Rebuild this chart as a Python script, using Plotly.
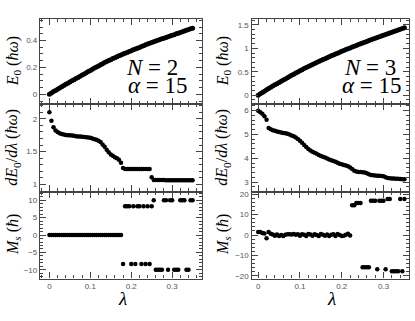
import plotly.graph_objects as go

# lambda sampling (same for both systems)
lam = [0.0, 0.005, 0.01, 0.015, 0.02, 0.025, 0.03, 0.035, 0.04, 0.045,
       0.05, 0.055, 0.06, 0.065, 0.07, 0.075, 0.08, 0.085, 0.09, 0.095,
       0.1, 0.105, 0.11, 0.115, 0.12, 0.125, 0.13, 0.135, 0.14, 0.145,
       0.15, 0.155, 0.16, 0.165, 0.17, 0.175, 0.18, 0.185, 0.19, 0.195,
       0.2, 0.205, 0.21, 0.215, 0.22, 0.225, 0.23, 0.235, 0.24, 0.245,
       0.25, 0.255, 0.26, 0.265, 0.27, 0.275, 0.28, 0.285, 0.29, 0.295,
       0.3, 0.305, 0.31, 0.315, 0.32, 0.325, 0.33, 0.335, 0.34, 0.345, 0.35]

# N = 2, alpha = 15
e0_n2 = [0.0, 0.010, 0.020, 0.029, 0.038, 0.047, 0.056, 0.065, 0.074, 0.082,
         0.091, 0.100, 0.108, 0.117, 0.126, 0.134, 0.143, 0.152, 0.160, 0.169,
         0.178, 0.186, 0.195, 0.203, 0.211, 0.220, 0.228, 0.236, 0.244, 0.251,
         0.258, 0.266, 0.273, 0.280, 0.287, 0.293, 0.300, 0.306, 0.312, 0.318,
         0.324, 0.331, 0.337, 0.343, 0.349, 0.355, 0.361, 0.368, 0.374, 0.380,
         0.386, 0.391, 0.397, 0.402, 0.407, 0.413, 0.418, 0.423, 0.429, 0.434,
         0.439, 0.444, 0.450, 0.455, 0.460, 0.466, 0.471, 0.476, 0.482, 0.487, 0.492]
de_n2 = [2.10, 1.97, 1.87, 1.82, 1.80, 1.78, 1.77, 1.76, 1.755, 1.75,
         1.748, 1.745, 1.74, 1.735, 1.732, 1.73, 1.727, 1.723, 1.72, 1.715,
         1.71, 1.70, 1.69, 1.68, 1.665, 1.645, 1.61, 1.575, 1.53, 1.49,
         1.455, 1.435, 1.415, 1.40, 1.375, 1.33, 1.25, 1.235, 1.235, 1.235,
         1.235, 1.235, 1.235, 1.235, 1.235, 1.235, 1.235, 1.235, 1.235, 1.235,
         1.11, 1.068, 1.067, 1.067, 1.066, 1.066, 1.066, 1.065, 1.065, 1.065,
         1.065, 1.064, 1.064, 1.064, 1.063, 1.063, 1.063, 1.062, 1.062, 1.062, 1.062]
ms_n2 = [0, 0, 0, 0, 0, 0, 0, 0, 0, 0,
         0, 0, 0, 0, 0, 0, 0, 0, 0, 0,
         0, 0, 0, 0, 0, 0, 0, 0, 0, 0,
         0, 0, 0, 0, 0, 0, -8.3, 8.3, 8.3, 8.3,
         -8.3, 8.3, -8.3, 8.3, 8.3, -8.3, 8.3, -8.3, 8.3, -8.3,
         8.3, 10, -10, -10, -10, -10, 10, 10, -10, 10,
         10, -10, -10, -10, 10, 10, 10, -10, -10, 10, 10]

# N = 3, alpha = 15
e0_n3 = [0.0, 0.030, 0.059, 0.088, 0.117, 0.144, 0.170, 0.196, 0.222, 0.248,
         0.273, 0.299, 0.324, 0.349, 0.375, 0.400, 0.425, 0.449, 0.474, 0.498,
         0.522, 0.545, 0.568, 0.591, 0.613, 0.635, 0.656, 0.678, 0.699, 0.720,
         0.740, 0.761, 0.781, 0.801, 0.821, 0.840, 0.860, 0.879, 0.898, 0.917,
         0.936, 0.955, 0.973, 0.992, 1.010, 1.028, 1.045, 1.063, 1.080, 1.097,
         1.114, 1.131, 1.148, 1.165, 1.181, 1.198, 1.214, 1.231, 1.247, 1.263,
         1.279, 1.296, 1.312, 1.327, 1.343, 1.359, 1.375, 1.390, 1.406, 1.422, 1.437]
de_n3 = [6.0, 5.93, 5.87, 5.76, 5.62, 5.27, 5.22, 5.18, 5.15, 5.12,
         5.10, 5.08, 5.06, 5.045, 5.03, 5.0, 4.96, 4.92, 4.87, 4.81,
         4.74, 4.65, 4.56, 4.47, 4.39, 4.33, 4.27, 4.23, 4.19, 4.14,
         4.10, 4.06, 4.03, 3.99, 3.95, 3.92, 3.88, 3.85, 3.81, 3.77,
         3.75, 3.72, 3.70, 3.66, 3.61, 3.55, 3.48, 3.44, 3.42, 3.42,
         3.41, 3.40, 3.37, 3.33, 3.30, 3.29, 3.28, 3.27, 3.27, 3.26,
         3.24, 3.20, 3.17, 3.16, 3.15, 3.15, 3.14, 3.14, 3.13, 3.12, 3.12]
ms_n3 = [1.5, 1.5, 1.0, 0.8, -1.6, 1.5, 0.7, 0.3, -0.3, 0.3,
         -0.5, 0.0, -0.4, 0.2, 0.4, 0.4, 0.3, 0.5, 0.2, 0.4,
         -0.3, 0.4, 0.1, -0.4, 0.5, 0.3, -0.3, 0.4, 0.0, -0.4,
         0.5, 0.2, -0.3, 0.3, -0.4, 0.1, 0.4, -0.4, 0.5, 0.0,
         -0.4, -0.3, 0.2, 0.6, -0.2, 14.6, 14.6, 15.7, 15.7, 15.7,
         -15.8, -15.8, -15.8, -15.8, 16.8, 16.8, 16.8, -16.8, 16.8, 16.8,
         16.8, -16.8, 17.7, 17.7, -17.8, -17.8, -17.8, -17.8, 17.7, -17.8, 17.7]

W, H = 415, 321
def fx(px):
    return px / W
def fy(py):
    return 1 - py / H

rows = [(17, 103), (103, 192), (192, 280)]
cols = [(40, 202), (251.5, 409)]

fig = go.Figure()

panels = [
    # (col, row, y data, y range, major, minor)
    (0, 0, e0_n2, [-0.07, 0.562], 0.2, 0.05),
    (0, 1, de_n2, [0.89, 2.23], 0.5, 0.1),
    (0, 2, ms_n2, [-12.5, 12.5], 5, 1),
    (1, 0, e0_n3, [-0.18, 1.63], 0.5, 0.1),
    (1, 1, de_n3, [2.6, 6.29], 1, 0.2),
    (1, 2, ms_n3, [-21.3, 21.3], 10, 2),
]
xranges = [[-0.023, 0.373], [-0.016, 0.361]]

tickfont = dict(family="Liberation Sans", size=8, color="#555")
framecol = "#444"

for i, (c, r, yd, yr, dt, mdt) in enumerate(panels, start=1):
    fig.add_trace(go.Scatter(
        x=lam, y=yd, mode="markers",
        marker=dict(color="black", size=5 if r == 0 else 4.5),
        xaxis="x%d" % i, yaxis="y%d" % i, showlegend=False))
    xa = dict(domain=[fx(cols[c][0]), fx(cols[c][1])], range=xranges[c],
              anchor="y%d" % i, showline=True, linecolor=framecol, linewidth=1.3,
              mirror="ticks", ticks="inside", ticklen=6, tickcolor=framecol,
              dtick=0.1, tick0=0, showgrid=False, zeroline=False,
              showticklabels=(r == 2), tickfont=tickfont,
              minor=dict(dtick=0.02, ticks="inside", ticklen=3, tickcolor=framecol))
    ya = dict(domain=[fy(rows[r][1]), fy(rows[r][0])], range=yr,
              anchor="x%d" % i, showline=True, linecolor=framecol, linewidth=1.3,
              mirror="ticks", ticks="inside", ticklen=6, tickcolor=framecol,
              dtick=dt, tick0=0, showgrid=False, zeroline=False,
              tickfont=tickfont,
              minor=dict(dtick=mdt, ticks="inside", ticklen=3, tickcolor=framecol))
    fig.update_layout(**{"xaxis%d" % i: xa, "yaxis%d" % i: ya})

serif = "Liberation Serif"
titles = ["<i>E</i><sub>0</sub> (<i>ħω</i>)",
          "<i>dE</i><sub>0</sub>/<i>dλ</i> (<i>ħω</i>)",
          "<i>M<sub>s</sub></i> (<i>ħ</i>)"]
annos = []
for c, xc in enumerate([13, 223]):
    for r, t in enumerate(titles):
        annos.append(dict(x=fx(xc), y=fy((rows[r][0] + rows[r][1]) / 2),
                          xref="paper", yref="paper", text=t, textangle=-90,
                          showarrow=False, xanchor="center", yanchor="middle",
                          font=dict(family=serif, size=16, color="black")))
for xc in [122, 331]:
    annos.append(dict(x=fx(xc), y=fy(300), xref="paper", yref="paper",
                      text="<i>λ</i>", showarrow=False,
                      xanchor="center", yanchor="middle",
                      font=dict(family=serif, size=19, color="black")))
for xn, xa_, n in [(180, 190, 2), (398, 404, 3)]:
    annos.append(dict(x=fx(xn), y=fy(66), xref="paper", yref="paper",
                      text="<i>N</i> = %d" % n, showarrow=False,
                      xanchor="right", yanchor="middle",
                      font=dict(family=serif, size=23, color="black")))
    annos.append(dict(x=fx(xa_), y=fy(85), xref="paper", yref="paper",
                      text="<i>α</i> = 15", showarrow=False,
                      xanchor="right", yanchor="middle",
                      font=dict(family=serif, size=23, color="black")))

fig.update_layout(width=W, height=H, margin=dict(l=0, r=0, t=0, b=0),
                  paper_bgcolor="white", plot_bgcolor="white",
                  annotations=annos)

# page body margin would push the figure off the window
fig.write_html("out.html", config={"displayModeBar": False},
               post_script="document.body.style.margin='0px';")
